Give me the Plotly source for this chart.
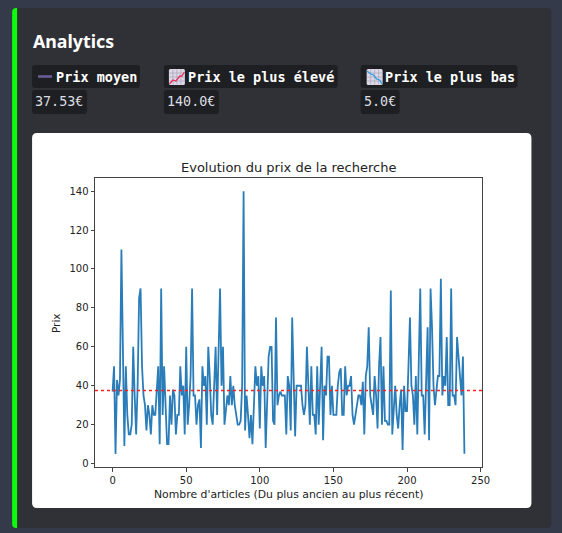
import plotly.graph_objects as go

TITLE = "Evolution du prix de la recherche"
X_LABEL = "Nombre d'articles (Du plus ancien au plus récent)"
Y_LABEL = "Prix"
X_TICKS = [0, 50, 100, 150, 200, 250]
Y_TICKS = [0, 20, 40, 60, 80, 100, 120, 140]
MEAN_PRICE = 37.53
STAT_LABELS = ["Prix moyen", "Prix le plus élevé", "Prix le plus bas"]
STAT_VALUES = ["37.53€", "140.0€", "5.0€"]

prices = [
    37, 50, 5, 43, 35, 43, 110, 60, 9, 50, 25, 15, 15, 20, 60, 35, 15, 40, 85, 90,
    50, 35, 30, 17, 30, 25, 15, 30, 25, 25, 35, 50, 10, 90, 25, 50, 30, 10, 10, 35,
    20, 38, 35, 15, 25, 25, 50, 35, 40, 15, 60, 20, 30, 45, 90, 35, 35, 20, 30, 33,
    8, 50, 40, 45, 20, 60, 45, 25, 20, 45, 60, 25, 60, 90, 40, 60, 20, 30, 35, 30,
    45, 30, 40, 30, 25, 20, 20, 22, 40, 140, 17, 35, 25, 13, 25, 10, 30, 50, 40, 45,
    18, 50, 40, 45, 8, 30, 55, 60, 60, 22, 20, 75, 30, 35, 37, 35, 35, 35, 15, 45,
    40, 17, 75, 40, 14, 40, 40, 40, 40, 30, 25, 30, 60, 40, 20, 50, 25, 25, 15, 50,
    20, 40, 60, 12, 40, 35, 55, 55, 25, 40, 25, 25, 25, 40, 47, 49, 25, 25, 50, 35,
    40, 40, 45, 25, 20, 25, 30, 35, 35, 30, 42, 15, 45, 50, 70, 35, 30, 25, 45, 35,
    18, 50, 65, 20, 50, 22, 22, 20, 20, 89, 15, 30, 40, 25, 18, 30, 38, 7, 40, 27,
    27, 50, 75, 40, 35, 20, 45, 15, 50, 90, 35, 35, 15, 40, 70, 12, 90, 70, 40, 30,
    37, 45, 45, 95, 35, 45, 40, 65, 30, 30, 90, 35, 35, 30, 65, 55, 50, 35, 55, 5,
]
articles = list(range(len(prices)))

W, H = 562, 533
L, R, T, B = 95, 482.5, 178, 467
PW, PH = R - L, B - T


def px(x):
    return (x - L) / PW


def py(y):
    return (B - y) / PH


def rrect(x0, y0, x1, y1, r, fill, layer="below"):
    path = (
        f"M {px(x0 + r)} {py(y0)} L {px(x1 - r)} {py(y0)} "
        f"Q {px(x1)} {py(y0)} {px(x1)} {py(y0 + r)} L {px(x1)} {py(y1 - r)} "
        f"Q {px(x1)} {py(y1)} {px(x1 - r)} {py(y1)} L {px(x0 + r)} {py(y1)} "
        f"Q {px(x0)} {py(y1)} {px(x0)} {py(y1 - r)} L {px(x0)} {py(y0 + r)} "
        f"Q {px(x0)} {py(y0)} {px(x0 + r)} {py(y0)} Z"
    )
    return dict(type="path", xref="paper", yref="paper", path=path,
                fillcolor=fill, line=dict(width=0), layer=layer)


def seg(x0, y0, x1, y1, color, width=1.0):
    return dict(type="line", xref="paper", yref="paper", x0=px(x0), y0=py(y0), x1=px(x1), y1=py(y1),
                line=dict(color=color, width=width), layer="above")


def polyline(points, color, width=1.3):
    d = "M " + " L ".join(f"{px(a)} {py(b)}" for a, b in points)
    return dict(type="path", xref="paper", yref="paper", path=d,
                line=dict(color=color, width=width), layer="above")


def chart_icon(x, y, color, points):
    out = [rrect(x, y, x + 16, y + 16, 1.5, "#dcd8e6", "above")]
    for k in (4, 8, 12):
        out.append(seg(x + k, y + 0.5, x + k, y + 15.5, "#a9a3b8", 0.7))
        out.append(seg(x + 0.5, y + k, x + 15.5, y + k, "#a9a3b8", 0.7))
    out.append(polyline([(x + a, y + b) for a, b in points], color))
    return out


shapes = [
    dict(type="rect", xref="paper", yref="paper", x0=px(0), x1=px(W), y0=py(0), y1=py(H),
         fillcolor="#353a4a", line=dict(width=0), layer="below"),
    rrect(12, 8, 552, 528, 4, "#303136"),
    rrect(12, 8, 24, 528, 4, "#0dfb0d"),
    dict(type="rect", xref="paper", yref="paper", x0=px(17), x1=px(26), y0=py(8), y1=py(528),
         fillcolor="#303136", line=dict(width=0), layer="below"),
    rrect(32, 133, 532, 508, 5, "#ffffff"),
    rrect(32, 65, 140, 88, 3, "#1e1f22"),
    rrect(164, 65, 338, 88, 3, "#1e1f22"),
    rrect(361, 65, 518, 88, 3, "#1e1f22"),
    rrect(32, 90, 87, 114, 3, "#1e1f22"),
    rrect(164, 90, 219, 114, 3, "#1e1f22"),
    rrect(361, 90, 400, 114, 3, "#1e1f22"),
    seg(38, 76.5, 52, 76.5, "#6a5c97", 2.6),
    dict(type="line", xref="x", yref="y", x0=-11.95, x1=250.95, y0=MEAN_PRICE, y1=MEAN_PRICE,
         line=dict(color="#ff2020", width=1.6, dash="dot"), layer="above"),
]
shapes += chart_icon(169, 69, "#e8305a", [(0.5, 15), (4, 11), (7, 12), (11, 7), (13, 7), (15.5, 3)])
shapes += chart_icon(367, 69, "#2a9fe0", [(0.5, 2), (4, 5), (7, 6), (10, 10), (13, 11), (15.5, 15)])


def note(x, y, text, size, color, family, bold=False):
    return dict(xref="paper", yref="paper", x=px(x), y=py(y), text=f"<b>{text}</b>" if bold else text,
                showarrow=False, xanchor="left", yanchor="middle",
                font=dict(size=size, color=color, family=family))


MONO = "DejaVu Sans Mono"
annotations = [
    note(30.5, 41, "Analytics", 17.8, "#ffffff", "Noto Sans", True),
    note(54, 77, STAT_LABELS[0], 13.5, "#ffffff", MONO, True),
    note(186, 77, STAT_LABELS[1], 13.5, "#ffffff", MONO, True),
    note(383, 77, STAT_LABELS[2], 13.5, "#ffffff", MONO, True),
    note(33, 102, STAT_VALUES[0], 13.4, "#dbdee1", MONO),
    note(165, 102, STAT_VALUES[1], 13.4, "#dbdee1", MONO),
    note(362, 102, STAT_VALUES[2], 13.4, "#dbdee1", MONO),
    dict(xref="paper", yref="paper", x=px(288.5), y=py(167), text=TITLE, showarrow=False,
         xanchor="center", yanchor="middle", font=dict(size=13, color="#222222", family="DejaVu Sans")),
    dict(xref="paper", yref="paper", x=px(288.5), y=py(494.5), text=X_LABEL, showarrow=False,
         xanchor="center", yanchor="middle", font=dict(size=10.85, color="#222222", family="DejaVu Sans")),
    dict(xref="paper", yref="paper", x=px(56), y=py(323), text=Y_LABEL, showarrow=False, textangle=-90,
         xanchor="center", yanchor="middle", font=dict(size=10.5, color="#222222", family="DejaVu Sans")),
]

fig = go.Figure(go.Scatter(x=articles, y=prices, mode="lines",
                           line=dict(color="#2a7db8", width=1.8), hoverinfo="skip"))
axis = dict(showgrid=False, zeroline=False, showline=True, mirror=True, linecolor="#444444", linewidth=1,
            ticks="outside", ticklen=3.5, tickwidth=0.8, tickcolor="#444444",
            tickfont=dict(family="DejaVu Sans", size=10, color="#222222"))
fig.update_layout(
    width=W, height=H, autosize=False, showlegend=False,
    margin=dict(l=L, r=W - R, t=T, b=H - B, pad=0),
    paper_bgcolor="#353a4a", plot_bgcolor="#ffffff",
    xaxis=dict(range=[-11.95, 250.95], tickvals=X_TICKS, **axis),
    yaxis=dict(range=[-1.75, 146.75], tickvals=Y_TICKS, **axis),
    shapes=shapes, annotations=annotations,
)
fig.write_html("out.html", config={"displayModeBar": False},
               post_script="document.body.style.margin='0';document.body.style.overflow='hidden';")
